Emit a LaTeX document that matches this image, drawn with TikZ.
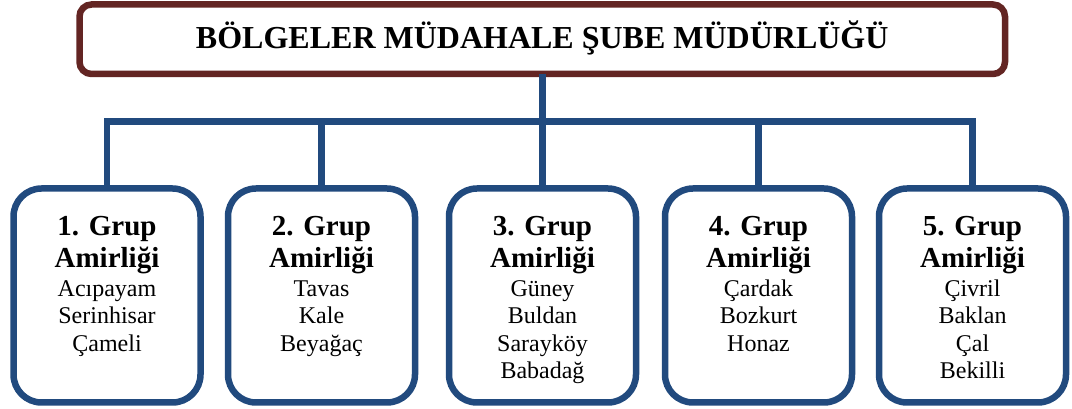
\documentclass[tikz,border=0pt]{standalone}
\usepackage{fontspec}
\setmainfont{Liberation Serif}
\definecolor{lineblue}{RGB}{33,74,126}
\definecolor{headbrown}{RGB}{99,37,35}
\newcommand{\grupbox}[2]{\parbox[c][214pt][t]{187pt}{\centering\fontsize{24}{27.3}\selectfont
\rule{0pt}{47.5pt}{\fontsize{29}{27.3}\selectfont\bfseries #1. Grup}\\[4.7pt]
{\fontsize{29}{27.3}\selectfont\bfseries Amirliği}\\[1.4pt]
#2}}
\tikzset{
  headbox/.style={draw=headbrown, line width=6.5pt, rounded corners=12pt, fill=white,
    minimum width=925.5pt, minimum height=69.5pt, inner sep=0pt, outer sep=0pt,
    font=\fontsize{32}{36}\selectfont\bfseries, text height=20pt, text depth=2pt},
  grpbox/.style={draw=lineblue, line width=6.5pt, rounded corners=28pt, fill=white,
    inner sep=0pt, outer sep=0pt},
  conn/.style={draw=lineblue, line width=6.5pt, line join=miter}
}
\begin{document}
\begin{tikzpicture}[x=1pt,y=1pt]
\useasboundingbox (0,0) rectangle (1072,409);
\node[headbox] (top) at (542.25,369.75) {BÖLGELER MÜDAHALE ŞUBE MÜDÜRLÜĞÜ};
\node[grpbox] (g1) at (107,113.5) {\grupbox{1}{Acıpayam\\Serinhisar\\Çameli}};
\node[grpbox] (g2) at (321.5,113.5) {\grupbox{2}{Tavas\\Kale\\Beyağaç}};
\node[grpbox] (g3) at (542.5,113.5) {\grupbox{3}{Güney\\Buldan\\Sarayköy\\Babadağ}};
\node[grpbox] (g4) at (758.5,113.5) {\grupbox{4}{Çardak\\Bozkurt\\Honaz}};
\node[grpbox] (g5) at (972.5,113.5) {\grupbox{5}{Çivril\\Baklan\\Çal\\Bekilli}};
\coordinate (bar) at (542.5,287.5);
\begin{scope}[on background layer/.try]
\path[conn] (g1.north) |- (bar) -| (g5.north);
\path[conn] (top.south) -- (top.south |- g3.north);
\path[conn] (g2.north) -- (g2.north |- bar);
\path[conn] (g4.north) -- (g4.north |- bar);
\end{scope}
\end{tikzpicture}
\end{document}
